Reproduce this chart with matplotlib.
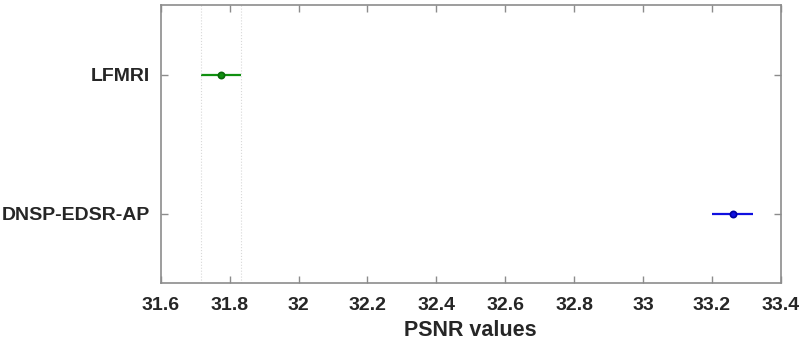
import matplotlib.pyplot as plt

plt.rcParams['font.family'] = ['Liberation Sans', 'DejaVu Sans']

groups = ["LFMRI", "DNSP-EDSR-AP"]
means = [31.775, 33.26]
lower = [31.716, 33.201]
upper = [31.834, 33.319]
colors = ["#109010", "#1010e0"]
edges = ["#0a6a0a", "#0000a0"]

fig = plt.figure(figsize=(8, 3.44), dpi=100)
ax = fig.add_axes([0.201, 0.177, 0.775, 0.808])

ypos = [1, 2]
for y, m, lo, hi, c, e in zip(ypos, means, lower, upper, colors, edges):
    ax.plot([lo, hi], [y, y], color=c, lw=1.6, solid_capstyle='butt')
    ax.plot(m, y, 'o', color=c, mfc=c, mec=e, ms=4.5, mew=1.2)

# dotted reference lines at the interval of the first group
ax.axvline(lower[0], color='#d8d8d8', lw=0.8, ls=':')
ax.axvline(upper[0], color='#d8d8d8', lw=0.8, ls=':')

ax.set_xlim(31.6, 33.4)
ax.set_ylim(2.5, 0.5)
ax.set_yticks(ypos)
ax.set_yticklabels(groups)
ax.set_xticks([31.6, 31.8, 32.0, 32.2, 32.4, 32.6, 32.8, 33.0, 33.2, 33.4])
ax.set_xticklabels(["31.6", "31.8", "32", "32.2", "32.4", "32.6", "32.8", "33", "33.2", "33.4"])
ax.set_xlabel("PSNR values", fontsize=15.5, fontweight='bold', color='#262626', labelpad=4)

for s in ax.spines.values():
    s.set_color('#8c8c8c')
    s.set_linewidth(1.2)
ax.tick_params(axis='x', pad=10)
ax.tick_params(axis='y', pad=8)
ax.tick_params(axis='both', which='both', direction='in', top=True, right=True,
               color='#8c8c8c', length=5, width=1.0, labelsize=14, labelcolor='#262626')
for lab in ax.get_xticklabels() + ax.get_yticklabels():
    lab.set_fontweight('bold')

fig.savefig("out.png", dpi=100)
